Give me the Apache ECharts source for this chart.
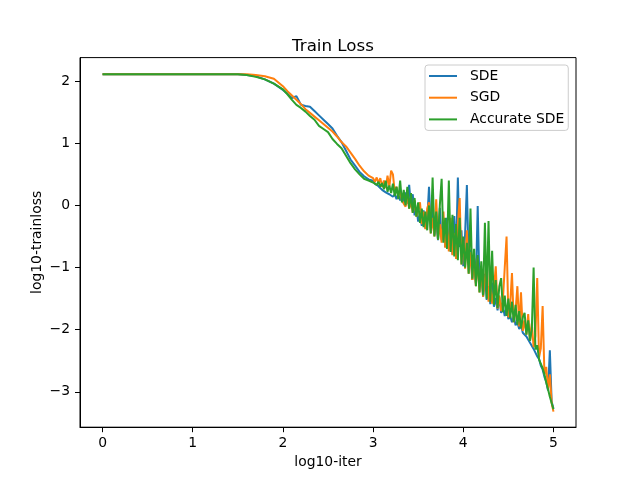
<!DOCTYPE html>
<html>
<head>
<meta charset="utf-8">
<script src="https://cdn.jsdelivr.net/npm/echarts@6/dist/echarts.min.js"></script>
<style>html,body{margin:0;padding:0;background:#fff}#c{width:640px;height:480px}</style>
</head>
<body>
<div id="c"></div>
<script>
// x values (log10 of iteration)
const iters = [0,0.25,0.5,0.75,1.0,1.25,1.5,1.6,1.7,1.8,1.9,2.0,2.05,2.1,2.15,2.2,2.25,2.3,2.35,2.4,2.45,2.5,2.55,2.6,2.65,2.7,2.75,2.8,2.85,2.9,2.95,
3.00,3.02,3.04,3.06,3.08,3.10,3.12,3.14,3.16,3.18,
3.20,3.22,3.24,3.26,3.28,3.30,3.32,3.34,3.36,3.38,
3.40,3.42,3.44,3.46,3.48,3.50,3.52,3.54,3.56,3.58,
3.60,3.62,3.64,3.66,3.68,3.70,3.72,3.74,3.76,3.78,
3.80,3.82,3.84,3.86,3.88,3.90,3.92,3.94,3.96,3.98,
4.00,4.02,4.04,4.06,4.08,4.10,4.12,4.14,4.16,4.18,
4.20,4.22,4.24,4.26,4.28,4.30,4.32,4.34,4.36,4.38,
4.40,4.42,4.44,4.46,4.48,4.50,4.52,4.54,4.56,4.58,
4.60,4.62,4.64,4.66,4.68,4.70,4.72,4.74,4.76,4.78,
4.80,4.82,4.84,4.86,4.88,4.90,4.92,4.94,4.96,4.98,
5.00];

const sde = [2.11,2.11,2.11,2.11,2.11,2.11,2.11,2.10,2.08,2.03,1.96,1.86,1.80,1.73,1.76,1.62,1.60,1.59,1.52,1.45,1.38,1.31,1.24,1.12,1.02,0.88,0.74,0.64,0.54,0.47,0.42,
0.40,0.35,0.38,0.31,0.31,0.25,0.28,0.21,0.23,0.18,
0.20,0.14,0.18,0.10,0.19,0.08,0.17,0.04,0.21,0.03,
0.33,-0.02,0.18,-0.16,-0.04,-0.26,-0.16,-0.33,-0.08,-0.37,
-0.25,0.30,-0.40,-0.03,-0.47,-0.23,-0.56,-0.04,-0.56,-0.29,
-0.67,-0.20,-0.70,-0.36,-0.79,-0.17,-0.80,0.45,-0.67,-0.40,
-0.98,-0.47,0.33,-0.96,-0.71,-1.20,-0.85,-1.25,-0.01,-1.30,
-1.10,-1.47,-1.10,-1.52,-1.30,-1.59,-1.24,-1.63,-1.49,-1.69,
-1.48,-1.73,-1.63,-1.78,-1.63,-1.83,-1.78,-1.88,-1.78,-1.93,
-1.88,-1.99,-1.92,-2.05,-2.02,-2.11,-2.08,-2.21,-2.20,-2.31,
-2.28,-2.43,-2.47,-2.58,-2.64,-2.76,-2.84,-2.98,-2.33,-3.16,
-3.27];

const sgd = [2.11,2.11,2.11,2.11,2.11,2.11,2.11,2.11,2.10,2.08,2.04,1.92,1.84,1.77,1.70,1.63,1.55,1.49,1.43,1.37,1.31,1.25,1.19,1.11,1.02,0.95,0.85,0.75,0.64,0.55,0.48,
0.44,0.38,0.45,0.36,0.44,0.30,0.40,0.28,0.48,0.30,
0.56,0.50,0.22,0.30,0.15,0.22,0.08,0.10,-0.02,0.15,
-0.05,0.05,-0.12,0.08,-0.18,-0.20,0.05,-0.30,-0.10,-0.38,
-0.05,0.05,-0.45,-0.20,-0.50,0.10,-0.55,-0.30,-0.60,-0.10,
-0.68,-0.35,-0.74,-0.20,-0.80,-0.45,-0.86,-0.30,0.12,-0.95,
-0.55,-1.02,-0.40,-1.10,-0.75,-1.20,-0.90,-1.30,-0.85,-1.40,
-1.05,-1.47,-1.20,-0.84,-1.55,-1.30,-1.58,-1.35,-0.98,-1.66,
-1.45,-1.70,-1.50,-1.00,-0.50,-1.80,-1.60,-1.09,-1.88,-1.70,
-1.30,-1.95,-1.40,-2.02,-1.85,-2.08,-1.75,-2.18,-1.90,-2.28,
-2.10,-1.17,-2.45,-2.30,-1.62,-2.72,-2.60,-2.95,-2.72,-3.18,
-3.32];

const accSde = [2.11,2.11,2.11,2.11,2.11,2.11,2.11,2.10,2.07,2.03,1.96,1.87,1.79,1.70,1.62,1.57,1.51,1.44,1.38,1.28,1.23,1.18,1.07,0.99,0.92,0.80,0.68,0.58,0.50,0.43,0.40,
0.37,0.40,0.33,0.38,0.30,0.36,0.26,0.40,0.22,0.32,
0.20,0.35,0.15,0.30,0.10,0.40,0.05,0.25,0.00,0.30,
-0.05,0.20,-0.12,0.12,-0.18,0.05,-0.28,-0.05,-0.35,-0.10,
-0.40,0.00,-0.45,0.45,-0.50,-0.10,-0.55,0.00,0.43,-0.60,
-0.20,-0.70,0.40,-0.75,-0.15,-0.82,-0.30,-0.88,-0.20,-0.95,
-0.50,-1.00,-0.60,-1.10,-0.05,-1.18,-0.70,-1.30,-0.80,-1.40,
-0.90,-1.45,-0.28,-1.50,-0.25,-1.55,-0.73,-1.60,-1.20,-1.65,
-1.30,-1.17,-1.72,-1.45,-1.78,-1.50,-1.82,-1.55,-1.88,-1.60,
-1.92,-1.70,-1.98,-1.80,-1.73,-2.08,-1.85,-2.18,-2.00,-1.00,
-2.32,-2.25,-2.48,-2.45,-2.62,-2.72,-2.85,-2.96,-3.08,-3.18,
-3.28];

const seriesNames = ['SDE', 'SGD', 'Accurate SDE'];
const seriesColors = ['#1f77b4', '#ff7f0e', '#2ca02c'];
const xTicks = [0, 1, 2, 3, 4, 5];
const yTicks = [-3, -2, -1, 0, 1, 2];

const FONT = 'DejaVu Sans';
const zip = ys => iters.map((x, i) => [x, ys[i]]);
const allY = [sde, sgd, accSde];

const chart = echarts.init(document.getElementById('c'), null, {renderer: 'canvas'});
chart.setOption({
  animation: false,
  backgroundColor: '#fff',
  title: {
    text: 'Train Loss', left: 328, top: 33, textAlign: 'center',
    textStyle: {fontFamily: FONT, fontSize: 16.7, fontWeight: 'normal', color: '#000'}
  },
  legend: {
    data: seriesNames,
    orient: 'vertical',
    left: 425, top: 65,
    padding: [4, 4, 4, 4],
    itemGap: 7.7,
    itemWidth: 28, itemHeight: 2,
    icon: 'rect',
    backgroundColor: '#fff',
    borderColor: '#cccccc', borderWidth: 1, borderRadius: 3,
    textStyle: {fontFamily: FONT, fontSize: 13.9, color: '#000', lineHeight: 14, padding: [0, 0, 0, 8]}
  },
  grid: {
    left: 80, right: 64, top: 57.6, bottom: 52.8,
    show: true, borderColor: '#000', borderWidth: 1, backgroundColor: 'transparent'
  },
  xAxis: {
    type: 'value', min: -0.25, max: 5.25,
    name: 'log10-iter', nameLocation: 'middle', nameGap: 28, nameMoveOverlap: false,
    nameTextStyle: {fontFamily: FONT, fontSize: 13.9, color: '#000'},
    axisLine: {show: true, onZero: false, lineStyle: {color: '#000', width: 1}},
    axisTick: {show: true, length: 5, inside: false, customValues: xTicks, lineStyle: {color: '#000'}},
    axisLabel: {customValues: xTicks, margin: 9, fontFamily: FONT, fontSize: 13.9, color: '#000'},
    splitLine: {show: false}
  },
  yAxis: {
    type: 'value', min: -3.57, max: 2.38,
    name: 'log10-trainloss', nameLocation: 'middle', nameGap: 36, nameRotate: 90, nameMoveOverlap: false,
    nameTextStyle: {fontFamily: FONT, fontSize: 13.9, color: '#000'},
    axisLine: {show: true, onZero: false, lineStyle: {color: '#000', width: 1}},
    axisTick: {show: true, length: 5, inside: false, customValues: yTicks, lineStyle: {color: '#000'}},
    axisLabel: {customValues: yTicks, margin: 10, fontFamily: FONT, fontSize: 13.9, color: '#000',
      formatter: v => (v < 0 ? '\u2212' + Math.abs(v) : String(v))},
    splitLine: {show: false}
  },
  series: seriesNames.map((name, k) => ({
    name: name,
    type: 'line',
    data: zip(allY[k]),
    showSymbol: false,
    symbol: 'none',
    color: seriesColors[k],
    lineStyle: {width: 2, color: seriesColors[k]},
    z: 2 + k
  }))
});
</script>
</body>
</html>
